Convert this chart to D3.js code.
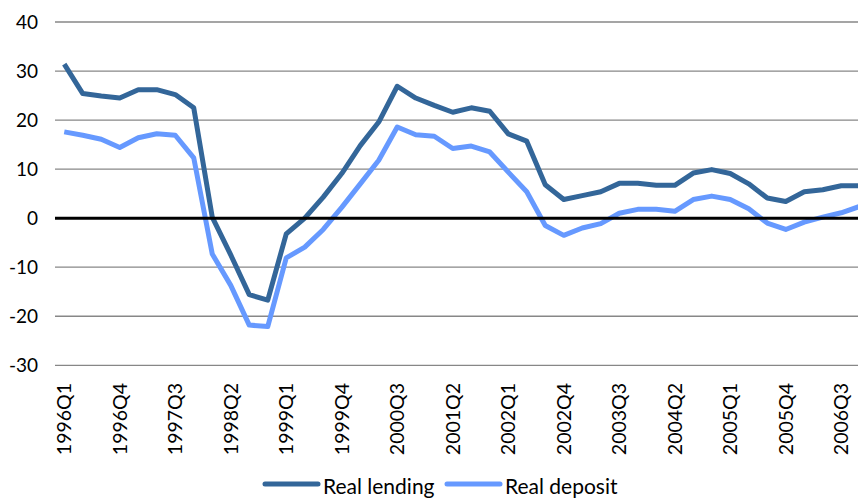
<!DOCTYPE html>
<html>
<head>
<meta charset="utf-8">
<script src="https://cdn.jsdelivr.net/npm/d3@7"></script>
<style>
  body { margin: 0; background: #fff; }
  text { font-family: Lato, "Open Sans", sans-serif; fill: #000; }
</style>
</head>
<body>
<svg id="chart" width="858" height="499"></svg>
<script>
// quarters 1996Q1 .. 2006Q4
const quarters = [];
for (let yr = 1996; yr <= 2006; yr++) {
    for (let q = 1; q <= 4; q++) quarters.push(yr + "Q" + q);
}
const realLending = [31.4, 25.4, 24.9, 24.5, 26.2, 26.2, 25.2, 22.5, 0.2, -7.5, -15.6, -16.7,
    -3.2, 0.0, 4.3, 9.1, 14.8, 19.6, 26.9, 24.5, 23.0, 21.6, 22.5, 21.8,
    17.2, 15.7, 6.8, 3.8, 4.6, 5.4, 7.1, 7.1, 6.7, 6.7, 9.2, 9.9,
    9.1, 7.0, 4.1, 3.4, 5.4, 5.8, 6.6, 6.6];
const realDeposit = [17.6, 16.9, 16.1, 14.4, 16.4, 17.2, 16.9, 12.3, -7.3, -13.7, -21.8, -22.1,
    -8.1, -5.9, -2.3, 2.2, 7.0, 11.8, 18.6, 17.0, 16.7, 14.2, 14.7, 13.5,
    9.4, 5.4, -1.5, -3.5, -2.0, -1.1, 1.0, 1.8, 1.8, 1.4, 3.8, 4.5,
    3.8, 1.9, -1.0, -2.3, -0.8, 0.2, 1.1, 2.4];
const yTicks = [-30, -20, -10, 0, 10, 20, 30, 40];
const seriesNames = ["Real lending", "Real deposit"];
const seriesColors = ["#336699", "#6699ff"];

const svg = d3.select("#chart");
const LEFT = 55, RIGHT = 869, TOP = 22, BOTTOM = 365.3;

const x = d3.scalePoint().domain(quarters).range([LEFT, RIGHT]).padding(0.5);
const y = d3.scaleLinear().domain([-30, 40]).range([BOTTOM, TOP]);

// gridlines
svg.append("g")
    .selectAll("line")
    .data(yTicks.filter(d => d !== 0))
    .enter().append("line")
    .attr("x1", LEFT).attr("x2", 858)
    .attr("y1", d => y(d)).attr("y2", d => y(d))
    .attr("stroke", "#878787")
    .attr("stroke-width", 1.3);

// y labels
svg.append("g")
    .selectAll("text")
    .data(yTicks)
    .enter().append("text")
    .attr("x", 38)
    .attr("y", d => y(d))
    .attr("dy", "0.36em")
    .attr("text-anchor", "end")
    .style("font-size", "19px")
    .text(d => d);

// x labels every 3rd quarter
svg.append("g")
    .selectAll("text")
    .data(quarters.filter((d, i) => i % 3 === 0))
    .enter().append("text")
    .attr("transform", d => `translate(${x(d)}, 383) rotate(-90)`)
    .attr("dy", "0.36em")
    .attr("text-anchor", "end")
    .style("font-size", "19.5px")
    .text(d => d);

// lines
const line = d3.line()
    .x((d, i) => x(quarters[i]))
    .y(d => y(d));

[realLending, realDeposit].forEach(function (vals, k) {
    svg.append("path")
        .datum(vals)
        .attr("fill", "none")
        .attr("stroke", seriesColors[k])
        .attr("stroke-width", 5)
        .attr("stroke-linejoin", "round")
        .attr("d", line);
});

// zero line on top
svg.append("line")
    .attr("x1", LEFT).attr("x2", 858)
    .attr("y1", y(0)).attr("y2", y(0))
    .attr("stroke", "#000")
    .attr("stroke-width", 3);

// legend
const legendX = [265, 447];
seriesNames.forEach(function (name, k) {
    const g = svg.append("g").attr("transform", `translate(${legendX[k]}, 484)`);
    g.append("line")
        .attr("x1", 0).attr("x2", 53)
        .attr("stroke", seriesColors[k])
        .attr("stroke-width", 5)
        .attr("stroke-linecap", "round");
    g.append("text")
        .attr("x", 58)
        .attr("y", 9.5)
        .style("font-size", "21px")
        .text(name);
});
</script>
</body>
</html>
